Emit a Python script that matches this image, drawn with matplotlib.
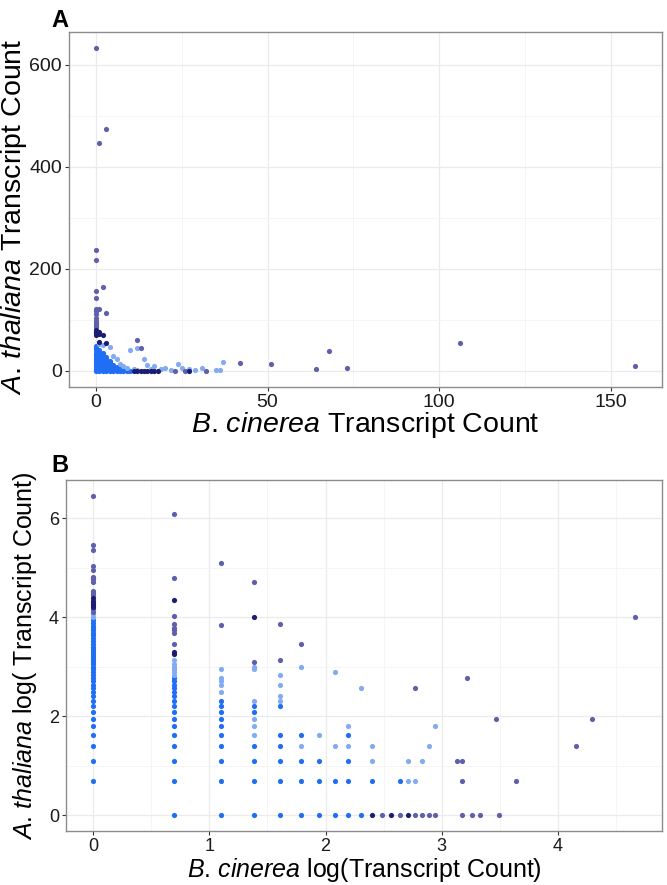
import numpy as np
import matplotlib
matplotlib.use('Agg')
import matplotlib.pyplot as plt
from matplotlib.ticker import MultipleLocator

plt.rcParams['font.family'] = ['Liberation Sans', 'DejaVu Sans']
plt.rcParams['mathtext.fontset'] = 'custom'
plt.rcParams['mathtext.rm'] = 'Liberation Sans'
plt.rcParams['mathtext.it'] = 'Liberation Sans:italic'

# ---- Panel A: raw transcript counts (B. cinerea, A. thaliana) ----
a_bright = [(0, 0), (0, 4), (0, 8), (0, 12), (0, 16), (0, 20), (0, 24), (0, 28), (0, 32), (0, 36), (0, 40), (0, 44), (0, 48),
            (1, 0), (1, 4), (1, 8), (1, 12), (1, 16), (1, 20), (1, 24), (1, 28), (1, 32), (1, 36), (1, 40),
            (2, 0), (2, 4), (2, 8), (2, 12), (2, 16), (2, 20), (2, 24), (2, 28), (2, 32), (2, 36),
            (3, 0), (3, 4), (3, 8), (3, 12), (3, 16), (3, 20), (3, 24), (3, 28),
            (4, 0), (4, 4), (4, 8), (4, 12), (4, 16), (4, 20),
            (5, 0), (5, 4), (5, 8), (5, 12), (6, 0), (6, 4), (6, 8),
            (7, 0), (7, 4), (8, 0), (8, 3), (9, 0), (9, 2), (10, 0)]
a_light = [(1, 52), (2, 50), (4, 47), (5, 30), (6, 24), (7, 14), (8, 9), (9, 6), (10, 41), (12, 45),
           (11, 4), (12, 2), (14, 23), (15, 12), (17, 9), (16, 4), (19, 3), (20, 6), (22, 1), (24, 14),
           (25, 6), (27, 3), (29, 1), (31, 6), (35, 1), (36, 1), (37, 17)]
a_dark = [(0, 633), (1, 447), (3, 475), (0, 238), (0, 218), (2, 164), (0, 156), (0, 143), (0, 122), (1, 122),
          (0, 117), (0, 112), (3, 113), (0, 104), (0, 98), (0, 94), (0, 90), (0, 86), (12, 60), (13, 45),
          (23, 0), (26, 0), (32, 0), (42, 16), (51, 13), (64, 3), (68, 39), (73, 6), (106, 55), (157, 10)]
a_navy = [(0, 80), (0, 77), (0, 74), (1, 76), (1, 72), (0, 70), (2, 70), (1, 56), (3, 54),
          (11, 0), (12, 0), (13, 0), (14, 0), (15, 0), (16, 0), (17, 0), (18, 0), (27, 0)]

# ---- Panel B: counts shown on natural-log axes (zeros dropped) ----
b_bright = [(1, 2), (1, 3), (1, 4), (1, 5), (1, 6), (1, 7), (1, 8), (1, 9), (1, 10), (1, 11), (1, 12), (1, 13),
            (1, 14), (1, 15), (1, 16), (1, 17), (1, 18), (1, 19), (1, 20), (1, 21), (1, 22), (1, 23), (1, 24),
            (1, 25), (1, 26), (1, 27), (1, 28), (1, 29), (1, 30), (1, 32), (1, 34), (1, 36), (1, 38), (1, 40),
            (1, 42), (1, 44), (1, 46), (1, 49), (1, 52),
            (2, 1), (2, 2), (2, 3), (2, 4), (2, 5), (2, 6), (2, 7), (2, 8), (2, 9), (2, 10), (2, 11), (2, 12),
            (2, 13), (2, 14), (2, 15), (2, 16),
            (3, 1), (3, 2), (3, 3), (3, 4), (3, 5), (3, 6), (3, 7), (3, 8), (3, 9), (3, 10),
            (4, 1), (4, 2), (4, 3), (4, 4), (4, 8), (4, 9),
            (5, 1), (5, 2), (5, 3), (5, 4), (5, 5), (5, 9),
            (6, 1), (6, 2), (6, 3), (6, 5), (7, 1), (7, 2), (7, 3), (8, 1), (8, 2),
            (9, 1), (9, 2), (9, 3), (9, 5), (10, 1), (11, 2), (14, 2)]
b_light = [(1, 55), (1, 58), (2, 17), (2, 18), (2, 19), (2, 20), (2, 21), (2, 23),
           (3, 12), (3, 14), (3, 15), (3, 16), (3, 19), (4, 5), (4, 6), (4, 7), (4, 10), (4, 19), (4, 20),
           (5, 10), (5, 11), (5, 14), (5, 17), (6, 4), (6, 20), (7, 5), (8, 4), (8, 18), (9, 4), (9, 6),
           (10, 13), (11, 3), (11, 4), (15, 2), (15, 3), (16, 2), (17, 3), (18, 4), (19, 6)]
b_dark = [(1, 61), (1, 64), (1, 85), (1, 89), (1, 92), (1, 112), (1, 117), (1, 121), (1, 124), (1, 142),
          (1, 154), (1, 213), (1, 235), (1, 633),
          (2, 32), (2, 40), (2, 42), (2, 44), (2, 48), (2, 56), (2, 120), (2, 437),
          (3, 47), (3, 162), (4, 22), (4, 112), (5, 23), (5, 48), (6, 32),
          (12, 1), (14, 1), (16, 1), (16, 13), (17, 1), (18, 1), (19, 1), (23, 3), (24, 2), (24, 3),
          (24, 1), (25, 16), (26, 1), (28, 1), (33, 1), (32, 7), (38, 2), (64, 4), (73, 7), (106, 55)]
b_navy = [(1, 67), (1, 70), (1, 73), (1, 76), (1, 80), (2, 26), (2, 27), (2, 77), (4, 55),
          (11, 1), (13, 1), (15, 1)]

shades = {'bright': '#1f6ef4', 'light': '#82abf2', 'dark': '#5f5fab', 'navy': '#1c1c72'}

fig = plt.figure(figsize=(6.67, 8.85), dpi=100)
ax_a = fig.add_axes([0.1034, 0.5627, 0.889, 0.4011])
ax_b = fig.add_axes([0.099, 0.061, 0.8936, 0.3966])


def draw(ax, groups, log=False):
    for name, pts in groups:
        xs = np.array([p[0] for p in pts], dtype=float)
        ys = np.array([p[1] for p in pts], dtype=float)
        if log:
            xs, ys = np.log(xs), np.log(ys)
        ax.scatter(xs, ys, s=14, color=shades[name], linewidths=0, zorder=3)


def style(ax, xmaj, ymaj, labsize):
    ax.xaxis.set_major_locator(MultipleLocator(xmaj))
    ax.xaxis.set_minor_locator(MultipleLocator(xmaj / 2))
    ax.yaxis.set_major_locator(MultipleLocator(ymaj))
    ax.yaxis.set_minor_locator(MultipleLocator(ymaj / 2))
    ax.grid(which='major', color='#ebebeb', linewidth=0.9, zorder=0)
    ax.grid(which='minor', color='#f4f4f4', linewidth=0.6, zorder=0)
    ax.set_axisbelow(True)
    for sp in ax.spines.values():
        sp.set_color('#8c8c8c')
        sp.set_linewidth(1.0)
    ax.tick_params(which='major', length=3, width=0.8, color='#333333',
                   labelsize=labsize, labelcolor='#1a1a1a', pad=2)
    ax.tick_params(which='minor', length=0)


draw(ax_a, [('bright', a_bright), ('light', a_light), ('dark', a_dark), ('navy', a_navy)])
style(ax_a, 50, 200, 14)
ax_a.set_xlabel(r'$\mathit{B}$. $\mathit{cinerea}$ Transcript Count', fontsize=20.5)
ax_a.set_ylabel(r'$\mathit{A}$. $\mathit{thaliana}$ Transcript Count', fontsize=20.5)
ax_a.xaxis.set_label_coords(0.5, -0.064)
ax_a.yaxis.set_label_coords(-0.068, 0.48)

draw(ax_b, [('bright', b_bright), ('light', b_light), ('dark', b_dark), ('navy', b_navy)], log=True)
style(ax_b, 1, 2, 13)
ax_b.set_xlabel(r'$\mathit{B}$. $\mathit{cinerea}$ log(Transcript Count)', fontsize=18)
ax_b.set_ylabel(r'$\mathit{A}$. $\mathit{thaliana}$ log( Transcript Count)', fontsize=18)
ax_b.xaxis.set_label_coords(0.5, -0.07)
ax_b.yaxis.set_label_coords(-0.046, 0.5)

fig.text(0.077, 0.990, 'A', fontsize=17, fontweight='bold', va='top', ha='left')
fig.text(0.077, 0.487, 'B', fontsize=17, fontweight='bold', va='top', ha='left')

fig.savefig('out.png', dpi=100)
